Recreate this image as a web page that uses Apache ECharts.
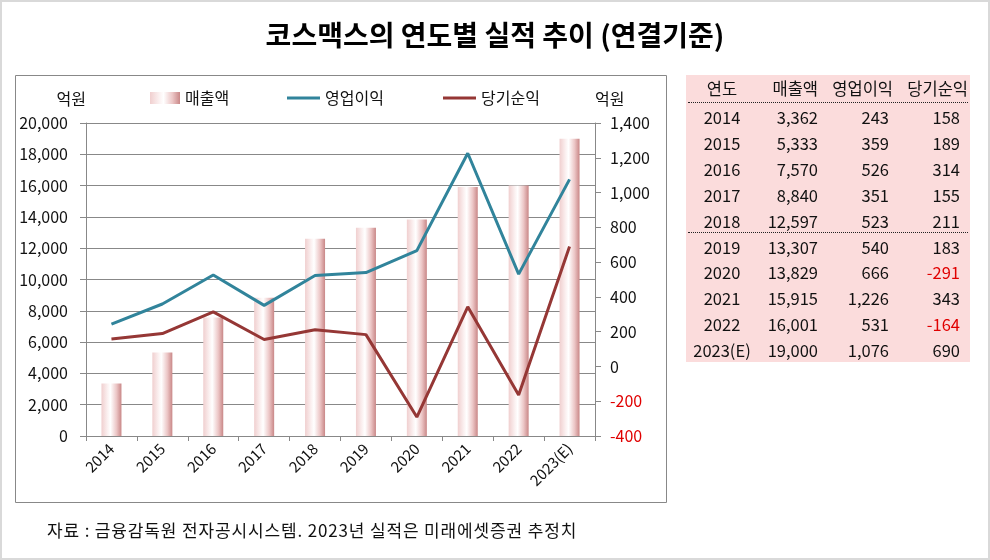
<!DOCTYPE html>
<html><head><meta charset="utf-8">
<script src="https://cdn.jsdelivr.net/npm/echarts/dist/echarts.min.js"></script>
<style>
html,body{margin:0;padding:0;background:#fff;}
#wrap{position:relative;width:990px;height:560px;overflow:hidden;font-family:"Noto Sans CJK KR","Noto Sans",sans-serif;}
#chart{position:absolute;left:0;top:0;width:990px;height:560px;}
#tbl{position:absolute;left:686px;top:75px;width:284px;height:287px;background:#fbdcdc;}
.c{position:absolute;font-size:16.5px;color:#111;white-space:nowrap;line-height:26px;height:26px;}
.dot{position:absolute;left:2px;width:280px;height:0;border-top:1.3px dotted #222;}
#src{position:absolute;left:47px;top:517px;font-size:17px;letter-spacing:0.85px;color:#111;white-space:nowrap;}
</style>
</head><body>
<div id="wrap"><div id="chart"></div><div id="tbl"></div><div id="src"></div></div>
<script>
const years = ['2014','2015','2016','2017','2018','2019','2020','2021','2022','2023(E)'];
const sales = [3362,5333,7570,8840,12597,13307,13829,15915,16001,19000];
const opIncome = [243,359,526,351,523,540,666,1226,531,1076];
const netIncome = [158,189,314,155,211,183,-291,343,-164,690];
const headers = ['연도','매출액','영업이익','당기순익'];
const seriesNames = ['매출액','영업이익','당기순익'];
const titleText = '코스맥스의 연도별 실적 추이 (연결기준)';
const sourceText = '자료 : 금융감독원 전자공시시스템. 2023년 실적은 미래에셋증권 추정치';
const unitText = '억원';

const fmt = v => v.toLocaleString('en-US');
const FONT = '"Noto Sans CJK KR","Noto Sans",sans-serif';

document.getElementById('src').textContent = sourceText;

// table
const tbl = document.getElementById('tbl');
const rightEdges = [132, 203, 274];
const headRight = [132, 207, 282];
function cell(text, top, opts){
  const d = document.createElement('div');
  d.className='c'; d.textContent=text; d.style.top = top+'px';
  if(opts.center!==undefined){ d.style.left=(opts.center-50)+'px'; d.style.width='100px'; d.style.textAlign='center'; }
  else { d.style.left=(opts.right-120)+'px'; d.style.width='120px'; d.style.textAlign='right'; }
  if(opts.color) d.style.color=opts.color;
  tbl.appendChild(d);
}
cell(headers[0], 0, {center:36});
for(let k=1;k<4;k++) cell(headers[k], 0, {right:headRight[k-1]});
years.forEach((y,i)=>{
  const top = 29 + i*25.9;
  cell(y, top, {center:36});
  cell(fmt(sales[i]), top, {right:rightEdges[0]});
  cell(fmt(opIncome[i]), top, {right:rightEdges[1]});
  cell(fmt(netIncome[i]), top, {right:rightEdges[2], color: netIncome[i]<0?'#e00000':null});
});
[27, 157].forEach(t=>{const d=document.createElement('div');d.className='dot';d.style.top=t+'px';tbl.appendChild(d);});

const chart = echarts.init(document.getElementById('chart'), null, {renderer:'canvas'});
const barGrad = new echarts.graphic.LinearGradient(0,0,1,0,[
  {offset:0,color:'#f0cfcf'},{offset:0.3,color:'#fbf0f0'},{offset:0.45,color:'#ffffff'},
  {offset:0.75,color:'#ecc6c6'},{offset:1,color:'#c98787'}]);
const teal = '#31849b', wine = '#953735';
const legendBase = {orient:'horizontal', top:90, itemHeight:12, textStyle:{fontSize:16, color:'#111', fontFamily:FONT}, itemGap:0, selectedMode:false, padding:0};
chart.setOption({
  animation:false,
  title:{text:titleText, left:'center', top:16, textStyle:{fontSize:28, fontWeight:'bold', color:'#000', fontFamily:FONT}},
  grid:{left:86, right:395, top:123, bottom:124, containLabel:false},
  legend:[
    Object.assign({}, legendBase, {left:150, data:[{name:seriesNames[0], icon:'rect'}], itemWidth:30}),
    Object.assign({}, legendBase, {left:287, data:[{name:seriesNames[1], icon:'rect'}], itemWidth:33, itemHeight:3}),
    Object.assign({}, legendBase, {left:443, data:[{name:seriesNames[2], icon:'rect'}], itemWidth:33, itemHeight:3})
  ],
  xAxis:{type:'category', data:years, boundaryGap:true,
    axisLine:{lineStyle:{color:'#888', width:1}},
    axisTick:{show:true, alignWithLabel:false, length:5, lineStyle:{color:'#888'}},
    axisLabel:{rotate:45, fontSize:15, color:'#111', margin:10, fontFamily:FONT, interval:0}},
  yAxis:[
    {type:'value', min:0, max:20000, interval:2000, position:'left',
     name:unitText, nameLocation:'end', nameGap:16, nameTextStyle:{fontSize:16, color:'#111', align:'right', fontFamily:FONT},
     axisLine:{show:true, lineStyle:{color:'#888'}},
     axisTick:{show:true, inside:false, length:6, lineStyle:{color:'#888'}},
     axisLabel:{fontSize:16, color:'#111', margin:18, fontFamily:FONT, formatter:v=>fmt(v)},
     splitLine:{show:true, lineStyle:{color:'#888', width:1}}},
    {type:'value', min:-400, max:1400, interval:200, position:'right',
     name:unitText, nameLocation:'end', nameGap:16, nameTextStyle:{fontSize:16, color:'#111', align:'left', fontFamily:FONT},
     axisLine:{show:true, lineStyle:{color:'#888'}},
     axisTick:{show:true, inside:false, length:6, lineStyle:{color:'#888'}},
     axisLabel:{fontSize:16, margin:15, fontFamily:FONT, formatter:v=>fmt(v),
       color:(v)=> (Number(v)<0?'#e00000':'#111')},
     splitLine:{show:false}}
  ],
  series:[
    {name:seriesNames[0], type:'bar', data:sales, yAxisIndex:0, barWidth:20, itemStyle:{color:barGrad}},
    {name:seriesNames[1], type:'line', data:opIncome, yAxisIndex:1, symbol:'none', lineStyle:{color:teal, width:3}, itemStyle:{color:teal}},
    {name:seriesNames[2], type:'line', data:netIncome, yAxisIndex:1, symbol:'none', lineStyle:{color:wine, width:3}, itemStyle:{color:wine}}
  ],
  graphic:[
    {type:'rect', shape:{x:1, y:1, width:988, height:558}, style:{fill:'none', stroke:'#d9d9d9', lineWidth:2}, silent:true},
    {type:'rect', shape:{x:15.5, y:75.5, width:651, height:427}, style:{fill:'none', stroke:'#888', lineWidth:1}, silent:true}
  ]
});
</script>
</body></html>
